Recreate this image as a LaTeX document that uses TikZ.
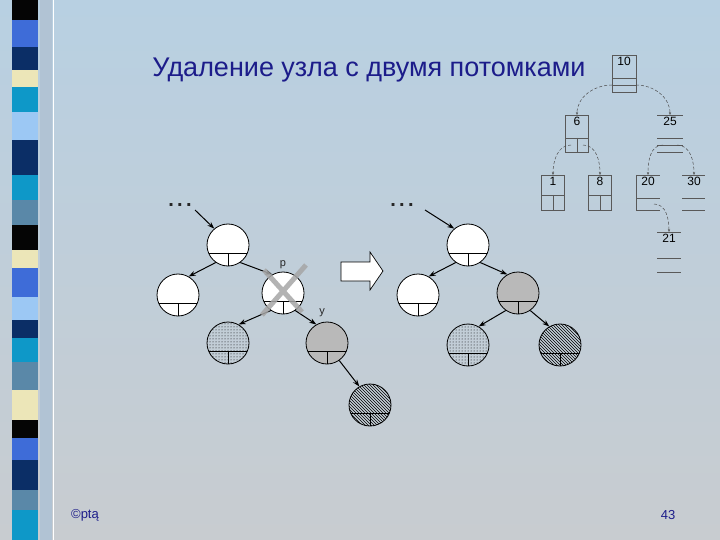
\documentclass[tikz,border=0pt]{standalone}
\usepackage{fontspec}
\setmainfont{Liberation Sans}
\usetikzlibrary{patterns,arrows.meta,calc}
\definecolor{navy}{HTML}{1C1C8A}
\definecolor{cA}{HTML}{050505}\definecolor{cB}{HTML}{3E6CD8}\definecolor{cC}{HTML}{0B2E66}
\definecolor{cD}{HTML}{ECE6B8}\definecolor{cE}{HTML}{0E98C8}\definecolor{cF}{HTML}{9CC8F4}
\definecolor{cG}{HTML}{5A88A8}
\tikzset{
 tn/.style={circle,draw,minimum size=42pt,inner sep=0pt,line width=0.8pt},
 ar/.style={-{Stealth[length=7pt,width=5pt]},line width=1pt},
 sb/.style={draw=gray!70!black,line width=0.5pt},
 dc/.style={densely dashed,gray!60!black,line width=0.5pt,-{Stealth[length=3pt]}},
 lab/.style={font=\fontsize{9}{9}\selectfont,text=gray!30!black}
}
\newcommand{\half}[1]{\draw[line width=0.8pt] ($(#1)+(-19.4,8)$) -- ($(#1)+(19.4,8)$) ($(#1)+(0,8)$) -- ($(#1)+(0,21)$);}
\begin{document}
\begin{tikzpicture}[x=1pt,y=-1pt]
\useasboundingbox (0,0) rectangle (720,540);
\shade[top color={rgb,255:red,184;green,208;blue,226},bottom color={rgb,255:red,200;green,204;blue,208}] (0,0) rectangle (720,540);
\fill[white!50!gray!60!cF] (40,0) rectangle (52,540);
\draw[white,line width=1pt] (53,0) -- (53,540);
\foreach \a/\b/\c in {0/20/cA,20/47/cB,47/70/cC,70/87/cD,87/112/cE,112/140/cF,140/175/cC,175/200/cE,200/225/cG,225/250/cA,250/268/cD,268/297/cB,297/320/cF,320/338/cC,338/362/cE,362/390/cG,390/420/cD,420/438/cA,438/460/cB,460/490/cC,490/510/cG,510/540/cE}
  \fill[\c] (12,\a) rectangle (38,\b);
\node[text=navy,font=\fontsize{27}{27}\selectfont] (title) at (369,70) {Удаление узла с двумя потомками};
\node[text=navy,font=\fontsize{13}{13}\selectfont] (copy) at (85,515) {©ptą};
\node[text=navy,font=\fontsize{13}{13}\selectfont] (pg) at (668,515) {43};
% left tree
\node[lab,font=\fontsize{20}{20}\selectfont\bfseries] (d1) at (180,205) {.\,.\,.};
\node[lab,font=\fontsize{20}{20}\selectfont\bfseries] (d2) at (402,205) {.\,.\,.};
\node[tn,fill=white] (r) at (228,245) {}; \half{r}
\node[tn,fill=white] (l) at (178,295) {}; \half{l}
\node[tn,fill=white] (p) at (283,293) {}; \half{p}
\node[tn,pattern=dots] (pd) at (228,343) {}; \half{pd}
\node[tn,fill=gray!55] (y) at (327,343) {}; \half{y}
\node[tn,pattern=north west lines] (h) at (370,405) {}; \half{h}
\coordinate (s1) at (195,210);
\draw[ar] (s1) -- (r.130);
\draw[ar] (r.235) -- (l.60);
\draw[ar] (r.305) -- (p.120);
\draw[ar] (p.235) -- (pd.60);
\draw[ar] (p.305) -- (y.120);
\draw[ar] (y.305) -- (h.120);
\node[lab,font=\fontsize{11}{11}\selectfont] (plab) at (283,265) {p};
\node[lab,font=\fontsize{11}{11}\selectfont] (ylab) at (322,313) {y};
\draw[gray!70,line width=5pt,opacity=0.85] (262,315) -- (306,265) (264,270) -- (302,312);
% big arrow
\draw[fill=white,line width=0.7pt] (341,262) -- (370,262) -- (370,252) -- (383,271) -- (370,290) -- (370,281) -- (341,281) -- cycle;
% right tree
\node[tn,fill=white] (R) at (468,245) {}; \half{R}
\node[tn,fill=white] (L) at (418,295) {}; \half{L}
\node[tn,fill=gray!55] (Y) at (518,293) {}; \half{Y}
\node[tn,pattern=dots] (PD) at (468,345) {}; \half{PD}
\node[tn,pattern=north west lines] (H) at (560,345) {}; \half{H}
\coordinate (s2) at (425,210);
\draw[ar] (s2) -- (R.130);
\draw[ar] (R.235) -- (L.60);
\draw[ar] (R.305) -- (Y.120);
\draw[ar] (Y.235) -- (PD.60);
\draw[ar] (Y.305) -- (H.120);
% small tree
\begin{scope}[font=\fontsize{12}{12}\selectfont,inner sep=2pt]
\node[sb,minimum width=24pt,minimum height=37pt,anchor=north,inner sep=0pt] (b10) at (624,55) {};
\node[anchor=north] (t10) at (b10.north) {10};
\draw[sb] (612,78)--(636,78) (612,85)--(636,85);
\node[sb,minimum width=23pt,minimum height=37pt,anchor=north,inner sep=0pt] (b6) at (577,115) {};
\node[anchor=north] (t6) at (b6.north) {6};
\draw[sb] (566,138)--(589,138) (577,138)--(577,152);
\node[sb,minimum width=23pt,minimum height=35pt,anchor=north,inner sep=0pt] (b1) at (553,175) {};
\node[anchor=north] (t1) at (b1.north) {1};
\draw[sb] (542,195)--(565,195) (553,195)--(553,210);
\node[sb,minimum width=23pt,minimum height=35pt,anchor=north,inner sep=0pt] (b8) at (600,175) {};
\node[anchor=north] (t8) at (b8.north) {8};
\draw[sb] (588,195)--(611,195) (600,195)--(600,210);
\node[anchor=north] (t25) at (670,115) {25};
\draw[sb] (657,115)--(683,115) (657,138)--(683,138) (657,145)--(683,145) (657,152)--(683,152);
\node[anchor=north] (t20) at (648,175) {20};
\draw[sb] (636,175)--(660,175) (636,198)--(660,198) (636,210)--(660,210) (636,175)--(636,210);
\node[anchor=north] (t30) at (694,175) {30};
\draw[sb] (682,175)--(705,175) (682,198)--(705,198) (682,210)--(705,210);
\node[anchor=north] (t21) at (669,232) {21};
\draw[sb] (657,232)--(681,232) (657,258)--(681,258) (657,272)--(681,272);
\end{scope}
\draw[dc] (612,85) to[out=180,in=90] (b6.north);
\draw[dc] (636,85) to[out=0,in=90] (t25.north);
\draw[dc] (571,145) to[out=180,in=90] (b1.north);
\draw[dc] (583,145) to[out=0,in=90] (b8.north);
\draw[dc] (663,145) to[out=180,in=90] (t20.north);
\draw[dc] (677,145) to[out=0,in=90] (t30.north);
\draw[dc] (654,204) to[out=0,in=90] (t21.north);
\end{tikzpicture}
\end{document}
